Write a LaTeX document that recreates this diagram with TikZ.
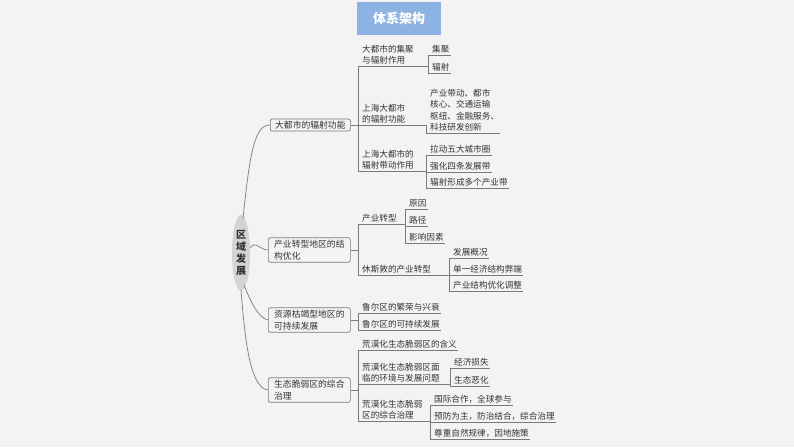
\documentclass[tikz,border=0pt]{standalone}
\usepackage{fontspec}
\setmainfont{Noto Sans CJK SC}
\usetikzlibrary{shapes.geometric}
\definecolor{bg}{HTML}{F3F3F3}
\definecolor{ttl}{HTML}{8DB3E2}
\definecolor{lnc}{HTML}{7A7A7A}
\definecolor{txc}{HTML}{333333}
\newcommand{\lf}[5][]{%
  \node[lf,anchor=south west,#1] (#2) at ({#3+3},#4) {#5};
  \draw[ln] (#3,#4) -- (#2.south east);}
\begin{document}
\begin{tikzpicture}[x=1pt,y=-1pt,
  ln/.style={draw=lnc,line width=0.7pt},
  lf/.style={text=txc,font=\fontsize{8.6}{11.5}\selectfont,inner xsep=1pt,inner ysep=1.5pt,align=left},
  bx/.style={draw=lnc,rounded corners=2pt,text=txc,font=\fontsize{8.8}{12.5}\selectfont,align=left,inner sep=2pt,anchor=west,line width=0.7pt}]
\fill[bg] (0,0) rectangle (794,447);
\useasboundingbox (0,0) rectangle (794,447);
\node[fill=ttl,minimum width=84pt,minimum height=33pt,text=white,font=\bfseries\fontsize{13}{15}\selectfont] (title) at (399,18.5) {体系架构};
\node[ellipse,fill=black!17,minimum width=18pt,minimum height=76pt,inner sep=0pt,draw=none,font=\bfseries\fontsize{10}{12}\selectfont,text=txc,align=center] (root) at (241,253) {区\\域\\发\\展};
% level 1
\node[bx,minimum width=80pt] (A) at (270,125) {大都市的辐射功能};
\node[bx,minimum width=82pt] (B) at (268,250) {产业转型地区的结\\构优化};
\node[bx,minimum width=82pt] (C) at (268,320) {资源枯竭型地区的\\可持续发展};
\node[bx,minimum width=82pt] (D) at (268,390) {生态脆弱区的综合\\治理};
\draw[ln] (root.north) ++(2,4) .. controls (250,150) and (255,125) .. (A.west);
\draw[ln] (root.east) ++(0,-5) .. controls (255,240) and (260,250) .. (B.west);
\draw[ln] (root.south) ++(3,-6) .. controls (250,300) and (258,318) .. (C.west);
\draw[ln] (root.south) ++(0,-1) .. controls (245,340) and (250,388) .. (D.west);
% A group
\draw[ln] (A.east) -- (358,125);
\draw[ln] (358,66) -- (358,171);
\lf{a1}{358}{66}{大都市的集聚\\与辐射作用}
\lf{a2}{358}{125}{上海大都市\\的辐射功能}
\lf{a3}{358}{171}{上海大都市的\\辐射带动作用}
\draw[ln] (a1.south east) -- (428,66); \draw[ln] (428,55) -- (428,73);
\lf{a11}{428}{55}{集聚}
\lf{a12}{428}{73}{辐射}
\draw[ln] (a2.south east) -- (426,125); \draw[ln] (426,125) -- (426,133);
\lf{a21}{426}{133}{产业带动、都市\\核心、交通运输\\枢纽、金融服务、\\科技研发创新}
\draw[ln] (a3.south east) -- (426,171); \draw[ln] (426,155) -- (426,188);
\lf{a31}{426}{155}{拉动五大城市圈}
\lf{a32}{426}{172}{强化四条发展带}
\lf{a33}{426}{188}{辐射形成多个产业带}
% B group
\draw[ln] (B.east) -- (358,250);
\draw[ln] (358,224) -- (358,275);
\lf{b1}{358}{224}{产业转型}
\lf{b2}{358}{275}{休斯敦的产业转型}
\draw[ln] (b1.south east) -- (405,224); \draw[ln] (405,209) -- (405,243);
\lf{b11}{405}{209}{原因}
\lf{b12}{405}{226}{路径}
\lf{b13}{405}{243}{影响因素}
\draw[ln] (b2.south east) -- (449,275); \draw[ln] (449,258) -- (449,291);
\lf{b21}{449}{258}{发展概况}
\lf{b22}{449}{275}{单一经济结构弊端}
\lf{b23}{449}{291}{产业结构优化调整}
% C group
\draw[ln] (C.east) -- (358,320);
\draw[ln] (358,313) -- (358,330);
\lf{c1}{358}{313}{鲁尔区的繁荣与兴衰}
\lf{c2}{358}{330}{鲁尔区的可持续发展}
% D group
\draw[ln] (D.east) -- (358,390);
\draw[ln] (358,350) -- (358,421);
\lf{d1}{358}{350}{荒漠化生态脆弱区的含义}
\lf{d2}{358}{384}{荒漠化生态脆弱区面\\临的环境与发展问题}
\lf{d3}{358}{421}{荒漠化生态脆弱\\区的综合治理}
\draw[ln] (d2.south east) -- (450,384); \draw[ln] (450,368) -- (450,386);
\lf{d21}{450}{368}{经济损失}
\lf{d22}{450}{386}{生态恶化}
\draw[ln] (d3.south east) -- (430,421); \draw[ln] (430,405) -- (430,439);
\lf{d31}{430}{405}{国际合作，全球参与}
\lf{d32}{430}{422}{预防为主，防治结合，综合治理}
\lf{d33}{430}{439}{尊重自然规律，因地施策}
\end{tikzpicture}
\end{document}
